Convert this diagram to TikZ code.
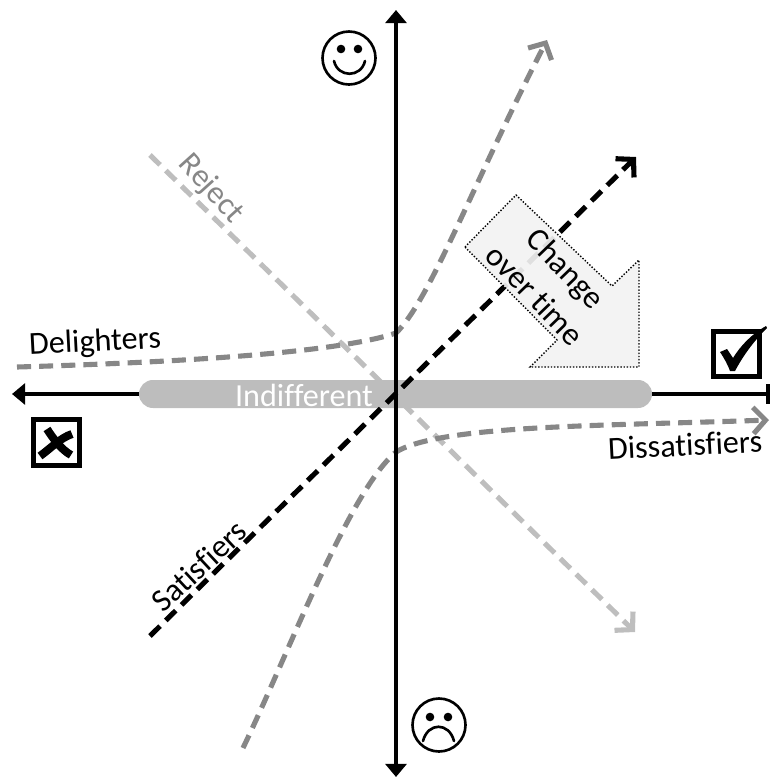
\documentclass[tikz,border=0pt]{standalone}
\usepackage{fontspec}
\setmainfont[Ligatures=NoCommon]{Carlito}
\usepackage{xcolor}
\usetikzlibrary{calc,arrows.meta}
\definecolor{ink}{HTML}{000000}
\definecolor{midgray}{HTML}{878787}
\definecolor{lightgray}{HTML}{BEBEBE}
\definecolor{barfill}{HTML}{BDBDBD}
\definecolor{panel}{HTML}{F2F2F2}
\tikzset{
  axis/.style={draw=ink, line width=2.3pt},
  axtip/.tip={Triangle[length=7.5pt,width=12pt]},
  curve/.style={draw=midgray, line width=2.9pt, dash pattern=on 8pt off 4.6pt, -{Straight Barb[length=7pt,width=15pt,line width=2.9pt]}},
  curvepale/.style={curve, draw=lightgray},
  curveink/.style={curve, draw=ink},
  box/.style={draw=ink, line width=2.9pt, fill=white},
  face/.style={draw=ink, line width=1.5pt, line cap=round},
  lab/.style={text=ink, font=\fontsize{18.3}{21}\selectfont, inner sep=0pt},
  labbar/.style={text=white, font=\fontsize{18.3}{21}\selectfont, inner sep=0pt}
}
\begin{document}
\begin{tikzpicture}[x=0.02cm,y=-0.02cm]
  \useasboundingbox (0,0) rectangle (769,778);
  \coordinate (L) at (12,394);
  \coordinate (Rt) at (768,394);
  \coordinate (T) at (396,10);
  \coordinate (B) at (396,777);
  \coordinate (RejS) at (150,155);
  \coordinate (RejE) at (635,632);
  \coordinate (SatS) at (150,636);
  \coordinate (SatE) at (636,157);
  \coordinate (DelS) at (17,367);
  \coordinate (DelE) at (547,40);
  \coordinate (DisS) at (243,748);
  \coordinate (DisE) at (769,420);
  % curves under the bar
  \draw[curvepale] (RejS) -- (RejE);
  \draw[curve] (DelS) .. controls (190,362) and (340,352) .. (396,333) .. controls (430,300) and (470,190) .. (DelE);
  \draw[curve] (DisS) .. controls (290,650) and (350,490) .. (396,452) .. controls (440,425) and (600,426) .. (DisE);
  % axes and bar
  \draw[axis, -axtip] (Rt) -- (L);
  \draw[axis] ($(Rt)+(0,-10)$) -- ($(Rt)+(0,10)$);
  \fill[barfill, rounded corners=7.9pt] (139,380) rectangle (652,408);
  \draw[axis, axtip-axtip] (T) -- (B);
  \draw[curveink] (SatS) -- (SatE);
  % change arrow
  \draw[draw=ink, densely dotted, line width=0.8pt, fill=panel, fill opacity=0.92]
    (465,247) -- (516,195) -- (612,286) -- (639,260) -- (639,367) -- (530,367) -- (557,340) -- cycle;
  % labels
  \node[lab, rotate=3] (delighters) at (95,343) {Delighters};
  \node[lab, rotate=3] (dissatisfiers) at (685,445) {Dissatisfiers};
  \node[lab, rotate=-48, text=midgray] (reject) at (211,189) {Reject};
  \node[lab, rotate=43] (satisfiers) at (199,566) {Satisfiers};
  \node[labbar] (indifferent) at (304,395) {Indifferent};
  \node[lab, rotate=-46] (change) at (564,270) {Change};
  \node[lab, rotate=-46] (overtime) at (535,295) {over time};
  % check box
  \draw[box] (713.5,331.5) rectangle (759.5,376.5);
  \fill[ink] (720,352) -- (727,349) -- (733,358) .. controls (741,345) and (752,334) .. (766,326) -- (767,328) .. controls (753,342) and (743,356) .. (735,371) -- (730,371) .. controls (728,365) and (724,358) .. cycle;
  % cross box
  \draw[box] (33.5,419.5) rectangle (79.5,465.5);
  \draw[ink, line width=4.6pt] (47,429) .. controls (54,440) and (62,450) .. (71,455);
  \draw[ink, line width=4.6pt] (72,434) .. controls (60,438) and (50,449) .. (40,456);
  % smiley
  \draw[face] (349,58) circle (26.5);
  \fill[ink] (341,49) circle (4.3);
  \fill[ink] (358,49) circle (4.3);
  \draw[face] (334,61) .. controls (338,78) and (361,78) .. (365,61);
  % frown
  \draw[face] (439,725) circle (26.5);
  \fill[ink] (430,717) circle (4.3);
  \fill[ink] (448,717) circle (4.3);
  \draw[face] (423,741) .. controls (428,722) and (449,722) .. (454,741);
\end{tikzpicture}
\end{document}
